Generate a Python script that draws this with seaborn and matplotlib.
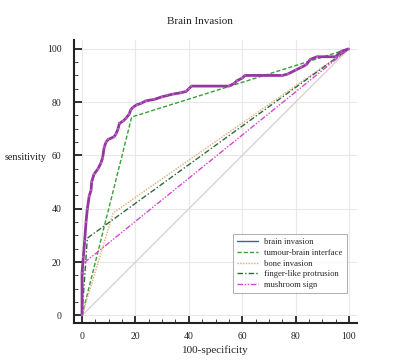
import numpy as np
import pandas as pd
import matplotlib
matplotlib.use('Agg')
import matplotlib.pyplot as plt
import seaborn as sns

# ---- data (100-specificity, sensitivity) ----
brain_fpr = [0, 0, 0.5, 1, 1.5, 2, 2.7, 3.4, 3.6, 4.5, 6, 7, 7.7, 8.3, 9, 9.8, 12, 12.7,
             13.5, 14, 15.5, 16.5, 17.7, 18.2, 19, 20.5, 22, 24, 27, 30, 32, 34, 37, 39,
             40, 41, 55, 57, 58, 60, 61, 75, 77, 80, 82, 84, 85.5, 88, 95, 97, 100]
brain_tpr = [0, 16, 22, 28, 35, 40, 44.8, 47, 50, 53, 55, 57, 59, 63, 65, 66, 67, 68,
             70, 72, 73, 74, 75.5, 77, 78, 79, 79.5, 80.5, 81, 82, 82.5, 83, 83.5, 84,
             85, 86, 86, 87, 88, 89, 90, 90, 90.5, 92, 93, 94, 96, 97, 97, 99, 100]

tbi_fpr = [0, 18.6, 100]
tbi_tpr = [0, 74.4, 100]

bone_fpr = [0, 11.7, 100]
bone_tpr = [0, 38.5, 100]

finger_fpr = [0, 2, 100]
finger_tpr = [0, 29, 100]

mush_fpr = [0, 0.5, 100]
mush_tpr = [0, 19.5, 100]

diag = [0, 100]

labels = ["brain invasion", "tumour-brain interface", "bone invasion",
          "finger-like protrusion", "mushroom sign"]

frames = []
for name, xs, ys in zip(labels,
                        [brain_fpr, tbi_fpr, bone_fpr, finger_fpr, mush_fpr],
                        [brain_tpr, tbi_tpr, bone_tpr, finger_tpr, mush_tpr]):
    frames.append(pd.DataFrame({"fpr": xs, "tpr": ys, "model": name}))
df = pd.concat(frames, ignore_index=True)

palette = {
    "brain invasion": "#3f6591",
    "tumour-brain interface": "#3a9e3a",
    "bone invasion": "#deab78",
    "finger-like protrusion": "#2f6a3c",
    "mushroom sign": "#d447d4",
}
dashes = {
    "brain invasion": "",
    "tumour-brain interface": (3, 1.5),
    "bone invasion": (1, 1),
    "finger-like protrusion": (4, 1.5, 1, 1.5),
    "mushroom sign": (4, 1.2, 1, 1.2, 1, 1.2),
}

sns.set_theme(style="white")
plt.rcParams['font.family'] = ['Liberation Serif', 'DejaVu Serif']

fig = plt.figure(figsize=(4, 3.6), dpi=100)
ax = fig.add_axes([0.185, 0.1014, 0.7075, 0.7876])

# chance line
ax.plot(diag, diag, color="#d6cfcf", lw=0.9, zorder=1)

sns.lineplot(data=df, x="fpr", y="tpr", hue="model", style="model",
             palette=palette, dashes=dashes, sort=False, estimator=None,
             units="model", lw=1.0, ax=ax, legend=True, zorder=3)

# purple marker trace on top of the brain invasion curve
ax.plot(brain_fpr, brain_tpr, color="#94379f", lw=2.0, zorder=4, solid_capstyle="butt")
ax.plot(brain_fpr, brain_tpr, ls="none", marker="s", ms=1.6, mew=0,
        color="#b55ac0", zorder=5)

ax.set_xlim(-3, 103)
ax.set_ylim(-3, 103.3)
ax.set_xticks(np.arange(0, 101, 20))
ax.set_yticks(np.arange(0, 101, 20))
ax.set_xticks(np.arange(0, 101, 5), minor=True)
ax.set_yticks(np.arange(0, 101, 5), minor=True)
ax.grid(True, which="major", color="#e8e8e8", lw=0.8)
ax.set_axisbelow(True)

for s in ["top", "right"]:
    ax.spines[s].set_visible(False)
for s in ["left", "bottom"]:
    ax.spines[s].set_color("#222222")
    ax.spines[s].set_linewidth(1.5)

ax.tick_params(which="both", bottom=True, left=True, top=False, right=False)
ax.tick_params(which="major", direction="in", length=6, width=1.3, color="#222222",
               labelsize=7, labelcolor="#222222")
ax.tick_params(which="minor", direction="in", length=3, width=0.7, color="#444444")
ax.tick_params(axis="y", which="major", pad=9)
ax.tick_params(axis="x", which="major", pad=6)

ax.set_xlabel("100-specificity", fontsize=8, color="#222222", labelpad=3)
ax.set_ylabel("")
fig.text(0.012, 1 - 157 / 360, "sensitivity", fontsize=7.3, color="#222222",
         ha="left", va="center")
fig.text(0.5, 1 - 21 / 360, "Brain Invasion", fontsize=8, color="#222222",
         ha="center", va="center")

handles, labs = ax.get_legend_handles_labels()
leg = ax.legend(handles[:5], labs[:5], loc="upper left",
                bbox_to_anchor=(233 / 400, 1 - 234 / 360), bbox_transform=fig.transFigure,
                borderaxespad=0, fontsize=6.2, frameon=True, fancybox=False,
                edgecolor="#999999", handlelength=2.4, handletextpad=0.7,
                labelspacing=0.3, borderpad=0.5)
leg.get_frame().set_linewidth(0.7)

fig.savefig("out.png", dpi=100)
